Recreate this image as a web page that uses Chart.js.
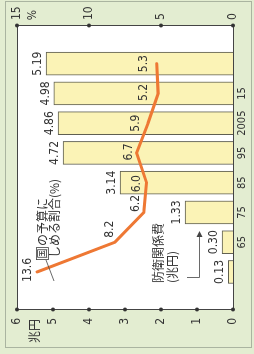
<!DOCTYPE html>
<html><head><meta charset="utf-8">
<script src="https://cdn.jsdelivr.net/npm/chart.js@4/dist/chart.umd.min.js"></script>
<style>
html,body{margin:0;padding:0;background:#e3edd1;overflow:hidden;width:254px;height:354px;}
#wrap{position:absolute;left:0;top:0;width:354px;height:254px;transform-origin:0 0;transform:translateY(354px) rotate(-90deg);}
canvas{display:block;}
</style></head><body>
<div id="wrap"><canvas id="c" width="354" height="254"></canvas></div>
<script>
// ---- data ----
const categories = ['1955','65','75','85','95','2005','15','18年度'];
const defenseBudget = [0.13,0.30,1.33,3.14,4.72,4.86,4.98,5.19];   // 兆円
const shareOfBudget = [13.6,8.2,6.2,6.0,6.7,5.9,5.2,5.3];          // %
const leftTicks = [0,1,2,3,4,5,6];
const rightTicks = [0,5,10,15];

// ---- style ----
const NARROW = '"Liberation Sans Narrow","DejaVu Sans Condensed","Roboto Condensed","Noto Sans CJK JP",sans-serif';
const JP = '"Noto Sans CJK JP",sans-serif';
const TXT = '#333';
const lineLabelOffsets = [[2,-9],[13,-5],[9,-8],[-1,-10],[1,-8],[0,-12],[1,-14],[0,-13]];

const deco = {
  id:'deco',
  beforeDraw(chart){
    const {ctx, chartArea:a} = chart;
    ctx.save();
    ctx.fillStyle='#e3edd1'; ctx.fillRect(0,0,chart.width,chart.height);
    ctx.strokeStyle='#aab4a0'; ctx.lineWidth=1; ctx.strokeRect(6.5,5.5,346,246);
    ctx.fillStyle='#ffffff'; ctx.fillRect(a.left,a.top,a.right-a.left,a.bottom-a.top);
    ctx.restore();
  },
  afterDatasetsDraw(chart){
    const ctx = chart.ctx;
    ctx.save();
    ctx.fillStyle=TXT;
    ctx.font='12px '+NARROW;
    ctx.textAlign='center';
    ctx.textBaseline='bottom';
    chart.getDatasetMeta(1).data.forEach((el,i)=>{
      ctx.fillText(defenseBudget[i].toFixed(2), el.x, el.y-2);
    });
    ctx.textBaseline='middle';
    chart.getDatasetMeta(0).data.forEach((el,i)=>{
      const o = lineLabelOffsets[i];
      ctx.fillText(shareOfBudget[i].toFixed(1), el.x+o[0], el.y+o[1]);
    });
    ctx.restore();
  },
  afterDraw(chart){
    const {ctx, chartArea:a, scales} = chart;
    ctx.save();
    ctx.strokeStyle='#444'; ctx.lineWidth=1;
    ctx.strokeRect(a.left+0.5,a.top+0.5,a.right-a.left-1,a.bottom-a.top);
    ctx.fillStyle='#333';
    leftTicks.forEach(t=>{ctx.beginPath();ctx.arc(a.left+0.5,scales.y.getPixelForValue(t),2,0,Math.PI*2);ctx.fill();});
    rightTicks.forEach(t=>{ctx.beginPath();ctx.arc(a.right-0.5,scales.y2.getPixelForValue(t),2,0,Math.PI*2);ctx.fill();});
    // units
    ctx.fillStyle=TXT; ctx.textBaseline='middle'; ctx.textAlign='center';
    ctx.font='12px '+JP;
    ctx.fillText('兆円',23,34);
    ctx.font='12px '+NARROW;
    ctx.fillText('%',339,33);
    // annotation: share of national budget
    ctx.textAlign='left';
    ctx.font='10px '+JP;
    ctx.fillText('国',95.5,42.5);
    ctx.lineWidth=0.8; ctx.strokeStyle='#444';
    ctx.strokeRect(94.5,36.5,12,12);
    ctx.font='12px '+JP;
    ctx.fillText('の予算に',108,42.5);
    ctx.fillText('しめる割合(%)',96,54);
    ctx.beginPath(); ctx.moveTo(94,46); ctx.lineTo(73,54); ctx.stroke();
    // annotation: defense budget
    ctx.fillText('防衛関係費',71,158.5);
    ctx.fillText('(兆円)',71,172);
    ctx.beginPath(); ctx.moveTo(76.5,187); ctx.lineTo(76.5,199.5); ctx.lineTo(120,199.5); ctx.stroke();
    ctx.fillStyle='#444';
    ctx.beginPath(); ctx.moveTo(123,199.5); ctx.lineTo(117,196.5); ctx.lineTo(117,202.5); ctx.closePath(); ctx.fill();
    ctx.restore();
  }
};

new Chart(document.getElementById('c'), {
  data:{
    datasets:[
      {type:'line', label:'国の予算にしめる割合(%)', yAxisID:'y2', xAxisID:'x',
       data: shareOfBudget.map((v,i)=>({x:i,y:v})),
       borderColor:'#ee7834', borderWidth:3, pointRadius:0, tension:0, fill:false, borderCapStyle:'round'},
      {type:'bar', label:'防衛関係費(兆円)', yAxisID:'y', xAxisID:'x',
       data: defenseBudget.map((v,i)=>({x:i,y:v})),
       backgroundColor:'#fbf3b6', borderColor:'#5e5e50', borderWidth:1, barThickness:23}
    ]
  },
  options:{
    responsive:false, animation:false, devicePixelRatio:1,
    layout:{padding:{top:17,left:0,right:0,bottom:0}},
    plugins:{legend:{display:false}, tooltip:{enabled:false}},
    scales:{
      x:{type:'linear', position:'bottom', min:-0.68, max:7.7,
         grid:{display:false, drawTicks:false}, border:{display:false},
         ticks:{stepSize:1, autoSkip:false, maxRotation:0, padding:3, color:TXT, font:{family:NARROW,size:11},
                callback:(v)=>Number.isInteger(v)&&v>=0&&v<categories.length?categories[v]:''},
         afterFit:s=>{s.height=21;}},
      y:{type:'linear', position:'left', min:0, max:6,
         grid:{display:false, drawTicks:false}, border:{display:false},
         ticks:{stepSize:1, padding:8, color:TXT, font:{family:NARROW,size:12}},
         afterFit:s=>{s.width=44;}},
      y2:{type:'linear', position:'right', min:0, max:15,
         grid:{display:false, drawTicks:false}, border:{display:false},
         ticks:{stepSize:5, padding:5, color:TXT, font:{family:NARROW,size:12}},
         afterFit:s=>{s.width=25;}}
    }
  },
  plugins:[deco]
});
</script>
</body></html>
